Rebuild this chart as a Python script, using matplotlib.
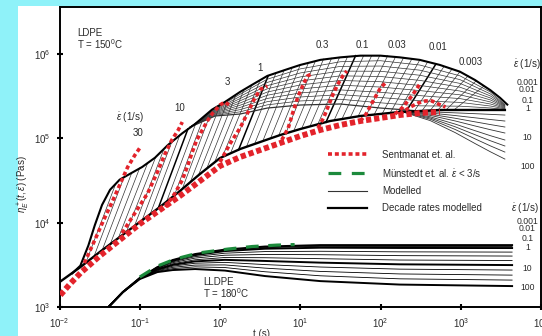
import numpy as np
import matplotlib
matplotlib.use("Agg")
import matplotlib.pyplot as plt
from matplotlib.lines import Line2D
from matplotlib.patches import Rectangle

# all curves are stored as log10(t [s]) and log10(eta [Pa s])

# LDPE, linear viscoelastic start-up curve (thick)
lve_lt = [-2.0, -1.74, -1.50, -1.25, -1.00, -0.75, -0.50, -0.25, 0.0, 0.25, 0.50,
          0.75, 1.00, 1.37, 1.75, 2.24, 2.74, 3.24, 3.55]
lve_le = [3.295, 3.473, 3.651, 3.829, 4.007, 4.185, 4.375, 4.577, 4.766, 4.873, 4.956,
          5.039, 5.110, 5.205, 5.265, 5.312, 5.336, 5.336, 5.336]

# LDPE, upper envelope (highest rate curve + maxima), thick
env_lt = [-1.84, -1.74, -1.64, -1.56, -1.47, -1.37, -1.25, -1.12, -0.97, -0.81, -0.65,
          -0.47, -0.31, -0.10, 0.06, 0.25, 0.41, 0.59, 0.84, 1.00, 1.25, 1.50, 1.75,
          2.00, 2.24, 2.49, 2.74, 2.99, 3.18, 3.37, 3.49, 3.58]
env_le = [3.40, 3.49, 3.73, 3.97, 4.21, 4.39, 4.51, 4.58, 4.66, 4.77, 4.92,
          5.06, 5.17, 5.34, 5.43, 5.55, 5.64, 5.74, 5.82, 5.87, 5.93, 5.96, 5.98,
          5.98, 5.96, 5.93, 5.87, 5.79, 5.69, 5.57, 5.48, 5.40]

# LDPE, long-time branches inside the band
band_lt = [-0.37, -0.06, 0.25, 0.59, 1.00, 1.50, 2.00, 2.49, 2.99, 3.37, 3.55]
band_le = [
    [5.134, 5.350, 5.523, 5.701, 5.823, 5.908, 5.920, 5.869, 5.741, 5.549, 5.400],
    [5.134, 5.340, 5.497, 5.663, 5.775, 5.853, 5.857, 5.808, 5.696, 5.526, 5.393],
    [5.134, 5.331, 5.471, 5.625, 5.728, 5.797, 5.795, 5.748, 5.651, 5.502, 5.386],
    [5.134, 5.321, 5.445, 5.587, 5.680, 5.741, 5.733, 5.687, 5.606, 5.478, 5.379],
    [5.134, 5.312, 5.419, 5.549, 5.633, 5.686, 5.671, 5.627, 5.561, 5.455, 5.372],
    [5.134, 5.303, 5.392, 5.511, 5.585, 5.630, 5.608, 5.566, 5.516, 5.431, 5.364],
    [5.134, 5.293, 5.366, 5.473, 5.538, 5.574, 5.546, 5.506, 5.471, 5.407, 5.357],
    [5.134, 5.284, 5.340, 5.435, 5.490, 5.518, 5.484, 5.445, 5.426, 5.383, 5.350],
    [5.134, 5.274, 5.314, 5.397, 5.443, 5.463, 5.421, 5.385, 5.381, 5.360, 5.343],
    [5.134, 5.265, 5.288, 5.359, 5.395, 5.407, 5.359, 5.324, 5.336, 5.336, 5.336],
]

# LDPE, high-rate branches falling below the LVE at long times
fan_lt = [2.24, 2.62, 2.93, 3.18, 3.37, 3.55]
fan_le = [
    [5.324, 5.314, 5.302, 5.292, 5.284, 5.276],
    [5.324, 5.300, 5.270, 5.243, 5.223, 5.205],
    [5.324, 5.286, 5.238, 5.195, 5.163, 5.134],
    [5.324, 5.272, 5.206, 5.146, 5.102, 5.063],
    [5.324, 5.255, 5.169, 5.090, 5.031, 4.980],
    [5.324, 5.241, 5.137, 5.042, 4.971, 4.909],
    [5.324, 5.227, 5.105, 4.993, 4.910, 4.837],
    [5.324, 5.210, 5.068, 4.937, 4.840, 4.754],
]

# LDPE, strain hardening rise of each modelled rate (start on LVE, end on envelope)
rise_lt0 = [-1.67, -1.57, -1.47, -1.37, -1.27, -1.17, -1.07, -0.97, -0.87, -0.77,
            -0.67, -0.57, -0.47, -0.37, -0.27, -0.17, -0.07, 0.03, 0.13, 0.23,
            0.33, 0.43, 0.53, 0.63, 0.73, 0.82, 0.92, 1.02, 1.12, 1.22,
            1.32, 1.42, 1.52, 1.62, 1.72, 1.82, 1.92, 2.02, 2.12, 2.22,
            2.32, 2.42, 2.52, 2.62, 2.72, 2.82, 2.92]
rise_le0 = [3.53, 3.60, 3.67, 3.74, 3.81, 3.88, 3.95, 4.03, 4.10, 4.17,
            4.24, 4.32, 4.40, 4.48, 4.56, 4.63, 4.71, 4.78, 4.82, 4.86,
            4.90, 4.93, 4.96, 5.00, 5.03, 5.06, 5.09, 5.12, 5.14, 5.17,
            5.19, 5.21, 5.23, 5.24, 5.26, 5.27, 5.28, 5.29, 5.30, 5.31,
            5.32, 5.32, 5.33, 5.33, 5.34, 5.34, 5.34]
rise_lt1 = [-1.30, -1.20, -1.10, -1.00, -0.90, -0.80, -0.70, -0.60, -0.50, -0.40,
            -0.30, -0.20, -0.10, 0.00, 0.10, 0.20, 0.30, 0.40, 0.50, 0.60,
            0.70, 0.80, 0.90, 1.00, 1.10, 1.19, 1.29, 1.39, 1.49, 1.59,
            1.69, 1.79, 1.89, 1.99, 2.09, 2.19, 2.29, 2.39, 2.49, 2.59,
            2.69, 2.79, 2.89, 2.99, 3.09, 3.19, 3.29]
rise_le1 = [4.46, 4.53, 4.59, 4.65, 4.71, 4.78, 4.87, 4.96, 5.04, 5.11,
            5.18, 5.26, 5.34, 5.39, 5.45, 5.52, 5.58, 5.64, 5.69, 5.74,
            5.78, 5.81, 5.84, 5.87, 5.89, 5.92, 5.94, 5.95, 5.96, 5.97,
            5.98, 5.98, 5.98, 5.98, 5.98, 5.97, 5.96, 5.94, 5.93, 5.91,
            5.88, 5.85, 5.82, 5.79, 5.74, 5.68, 5.62]
decade_rises = [9, 19, 30, 40]

# Sentmanat data, LDPE
sent_lve_lt = [-1.99, -1.87, -1.74, -1.50, -1.25, -1.00, -0.75, -0.50, -0.25, 0.00, 0.25,
               0.50, 0.75, 1.00, 1.25, 1.50, 1.75, 2.00, 2.24, 2.49, 2.74]
sent_lve_le = [3.141, 3.272, 3.402, 3.604, 3.794, 3.984, 4.150, 4.316, 4.494, 4.672, 4.778,
               4.861, 4.944, 5.027, 5.099, 5.158, 5.205, 5.241, 5.276, 5.300, 5.312]
sent_runs = {
    "30": ([-1.69, -1.56, -1.45, -1.35, -1.25, -1.15, -1.06, -1.00],
           [3.521, 3.794, 4.031, 4.233, 4.446, 4.660, 4.802, 4.885]),
    "10": ([-1.22, -1.06, -0.90, -0.78, -0.68, -0.60, -0.52, -0.47],
           [3.877, 4.114, 4.351, 4.600, 4.826, 4.980, 5.099, 5.193]),
    "3": ([-0.68, -0.56, -0.47, -0.40, -0.35, -0.29, -0.22, -0.15, -0.09, 0.00, 0.06, 0.13],
          [4.185, 4.351, 4.505, 4.683, 4.826, 4.980, 5.099, 5.217, 5.300, 5.395, 5.431, 5.383]),
    "1": ([0.00, 0.13, 0.25, 0.35, 0.44, 0.51, 0.59],
          [4.719, 4.944, 5.122, 5.312, 5.490, 5.585, 5.620]),
    "0.3": ([0.77, 0.85, 0.91, 0.97, 1.04, 1.09, 1.14],
            [4.980, 5.122, 5.312, 5.490, 5.644, 5.739, 5.763]),
    "0.1": ([1.22, 1.29, 1.35, 1.41, 1.47, 1.53, 1.58],
            [5.122, 5.241, 5.383, 5.526, 5.644, 5.739, 5.798]),
    "0.03": ([1.75, 1.82, 1.88, 1.95, 2.00, 2.06],
             [5.205, 5.288, 5.395, 5.514, 5.597, 5.656]),
    "0.01": ([2.18, 2.27, 2.33, 2.40, 2.45, 2.49],
             [5.288, 5.360, 5.431, 5.514, 5.585, 5.644]),
    "0.003": ([2.24, 2.37, 2.47, 2.56, 2.64, 2.72, 2.81],
              [5.288, 5.371, 5.419, 5.443, 5.443, 5.407, 5.371]),
}

# LLDPE model curves, rates 0.001 ... 100 1/s
lldpe_lt = [-1.40, -1.21, -1.00, -0.78, -0.59, -0.31, 0.06, 0.56, 1.25, 2.24, 3.64]
lldpe_le = [
    [2.99, 3.177, 3.343, 3.473, 3.557, 3.628, 3.681, 3.717, 3.734, 3.734, 3.734],
    [2.99, 3.177, 3.343, 3.472, 3.555, 3.625, 3.677, 3.711, 3.727, 3.726, 3.726],
    [2.99, 3.177, 3.343, 3.471, 3.552, 3.621, 3.672, 3.704, 3.719, 3.717, 3.716],
    [2.99, 3.177, 3.343, 3.469, 3.548, 3.615, 3.663, 3.691, 3.703, 3.700, 3.699],
    [2.99, 3.177, 3.341, 3.463, 3.536, 3.597, 3.638, 3.657, 3.661, 3.654, 3.651],
    [2.99, 3.177, 3.340, 3.458, 3.525, 3.580, 3.614, 3.623, 3.620, 3.609, 3.604],
    [2.99, 3.177, 3.338, 3.451, 3.512, 3.560, 3.587, 3.584, 3.573, 3.557, 3.551],
    [2.99, 3.177, 3.337, 3.445, 3.499, 3.541, 3.559, 3.546, 3.526, 3.506, 3.497],
    [2.99, 3.177, 3.336, 3.437, 3.484, 3.519, 3.529, 3.503, 3.474, 3.449, 3.438],
    [2.99, 3.177, 3.334, 3.430, 3.470, 3.497, 3.499, 3.461, 3.422, 3.392, 3.378],
    [2.99, 3.177, 3.333, 3.423, 3.455, 3.476, 3.468, 3.418, 3.370, 3.334, 3.319],
    [2.99, 3.177, 3.331, 3.414, 3.438, 3.450, 3.432, 3.367, 3.307, 3.266, 3.248],
]
lldpe_thick = [0, 3, 7, 11]

# Muenstedt data, LLDPE
mun_lt = [-1.00, -0.78, -0.56, -0.27, 0.10, 0.40, 0.71, 0.93]
mun_le = [3.355, 3.485, 3.568, 3.640, 3.687, 3.717, 3.734, 3.740]

rate_labels_right = ["0.001", "0.01", "0.1", "1", "10", "100"]


def xy(lt, le):
    return 10.0 ** np.asarray(lt), 10.0 ** np.asarray(le)


plt.rcParams["font.family"] = ["Liberation Sans", "DejaVu Sans"]
plt.rcParams["mathtext.fontset"] = "custom"
plt.rcParams["mathtext.rm"] = "Liberation Sans"
plt.rcParams["mathtext.it"] = "Liberation Sans:italic"
plt.rcParams["mathtext.bf"] = "Liberation Sans:bold"

RED = "#e3232b"
GREEN = "#1c8a3c"
TXT = "#2b2b2b"
THIN = "#333333"

fig = plt.figure(figsize=(5.42, 3.36), dpi=100)
fig.patch.set_facecolor("#8ff2f9")
fig.patches.append(Rectangle((18 / 542, 0), 1, 330 / 336, transform=fig.transFigure,
                             facecolor="white", edgecolor="none", zorder=-10))
ax = fig.add_axes([59.5 / 542, 29 / 336, 481.5 / 542, 300 / 336])
ax.set_xscale("log")
ax.set_yscale("log")
ax.set_xlim(1e-2, 10 ** 4.0)
ax.set_ylim(1e3, 10 ** 6.557)

# --- LDPE model mesh
for i in range(len(rise_lt0)):
    lw = 1.1 if i in decade_rises else 0.5
    col = "black" if i in decade_rises else THIN
    ax.plot(*xy([rise_lt0[i], rise_lt1[i]], [rise_le0[i], rise_le1[i]]), color=col, lw=lw, zorder=2)
for k, row in enumerate(band_le):
    ax.plot(*xy(band_lt, row), color=THIN, lw=0.9 if k == len(band_le) - 1 else 0.5, zorder=2)
for row in fan_le:
    ax.plot(*xy(fan_lt, row), color=THIN, lw=0.6, zorder=2)
ax.plot(*xy(lve_lt, lve_le), color="black", lw=1.7, zorder=3)
ax.plot(*xy(env_lt, env_le), color="black", lw=1.5, zorder=3)

# --- LLDPE model
for j, row in enumerate(lldpe_le):
    ax.plot(*xy(lldpe_lt, row), color="black", lw=1.4 if j in lldpe_thick else 0.6, zorder=3)

# --- experimental data
ax.plot(*xy(sent_lve_lt, sent_lve_le), color=RED, lw=4.2, ls=(0, (0.9, 0.5)), zorder=5)
for name, (lt, le) in sent_runs.items():
    ax.plot(*xy(lt, le), color=RED, lw=2.6, ls=(0, (1.1, 0.8)), zorder=5)
ax.plot(*xy(mun_lt, mun_le), color=GREEN, lw=2.3, ls=(0, (4, 3)), zorder=5)

# --- annotations
FS = 7


def put(lt, le, s, fs=FS, **kw):
    ax.text(10 ** lt, 10 ** le, s, fontsize=fs, color=TXT, **kw)


epsdot = r"$\dot{\varepsilon}$ (1/s)"
put(-1.78, 6.243, "LDPE", ha="left", va="center")
put(-1.78, 6.119, r"T = 150$^0$C", ha="left", va="center")
put(-0.21, 3.296, "LLDPE", ha="left", va="center")
put(-0.21, 3.165, r"T = 180$^0$C", ha="left", va="center")

put(-1.12, 5.253, epsdot, ha="center", va="center")
top_pos = [(-1.02, 5.063), (-0.50, 5.360), (0.09, 5.668), (0.50, 5.834), (1.27, 6.107),
           (1.77, 6.107), (2.20, 6.107), (2.72, 6.083), (3.12, 5.905)]
for s, (lt, le) in zip(sent_runs.keys(), top_pos):
    put(lt, le, s, ha="center", va="center")

put(3.995, 5.881, epsdot, ha="right", va="center")
for s, le in zip(rate_labels_right, [5.660, 5.575, 5.443, 5.348, 5.004, 4.660]):
    put(3.83, le, s, fs=6.2, ha="center", va="center")
put(3.98, 4.173, epsdot, ha="right", va="center")
for s, le in zip(rate_labels_right, [4.012, 3.932, 3.817, 3.711, 3.462, 3.236]):
    put(3.83, le, s, fs=6.2, ha="center", va="center")

ax.text(0.42, -0.073, "t (s)", transform=ax.transAxes, fontsize=FS, color=TXT,
        ha="center", va="top")
ax.text(-0.075, 0.41, r"$\eta_E^+(t,\dot{\varepsilon})$ (Pas)", transform=ax.transAxes,
        fontsize=FS, color=TXT, rotation=90, ha="center", va="center")

handles = [
    Line2D([], [], color=RED, lw=2.6, ls=(0, (1.1, 0.8))),
    Line2D([], [], color=GREEN, lw=2.3, ls=(0, (4, 3.3))),
    Line2D([], [], color=THIN, lw=0.8),
    Line2D([], [], color="black", lw=1.6),
]
labels = ["Sentmanat et. al.", "Münstedt et. al. " + r"$\dot{\varepsilon}$ < 3/s",
          "Modelled", "Decade rates modelled"]
leg = ax.legend(handles, labels, loc="upper left", bbox_to_anchor=(0.5576, 0.525),
                frameon=False, fontsize=FS, handlelength=4.0, handletextpad=1.6,
                labelspacing=0.75, borderpad=0, borderaxespad=0)
for t in leg.get_texts():
    t.set_color(TXT)

# --- axes styling
ax.set_xticks(10.0 ** np.arange(-2, 5))
ax.set_yticks([1e3, 1e4, 1e5, 1e6])
ax.minorticks_off()
ax.tick_params(direction="inout", length=5, width=1.5, labelsize=FS, colors="black",
               labelcolor=TXT, pad=4)
for sp in ax.spines.values():
    sp.set_linewidth(1.4)

fig.savefig("out.png", dpi=100, facecolor=fig.get_facecolor())
